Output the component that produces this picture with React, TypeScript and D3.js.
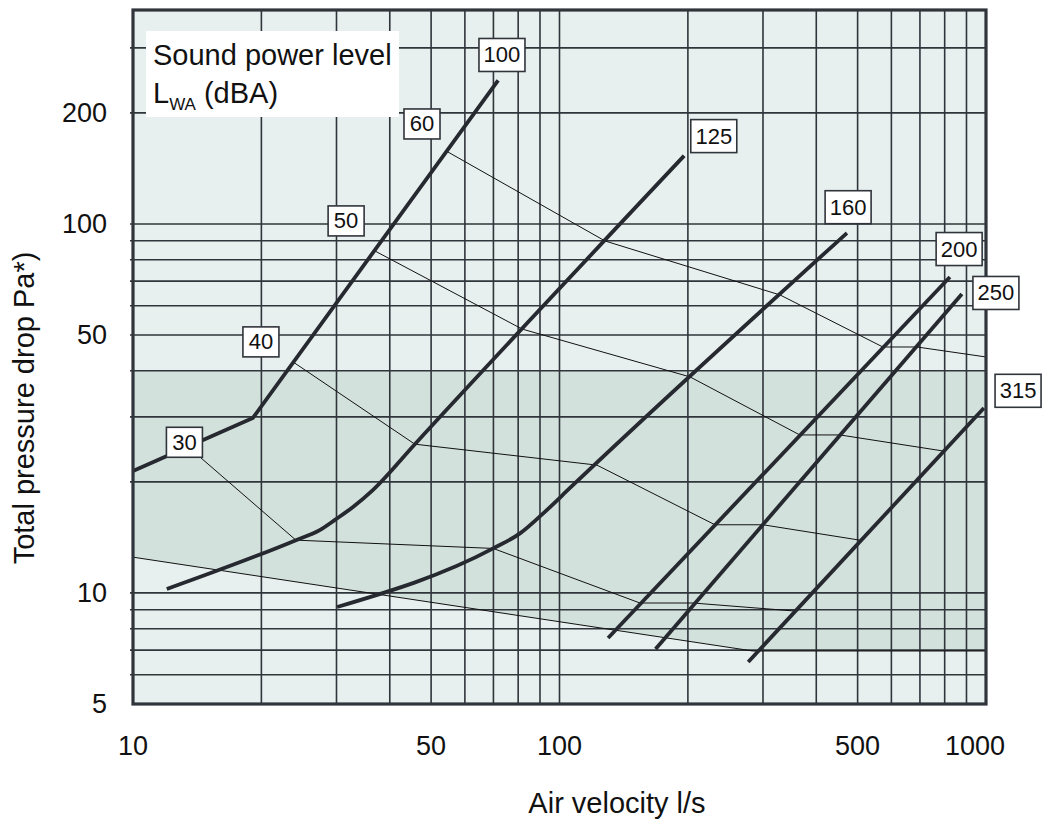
import React from 'react';
import * as d3 from 'd3';

// ---- data ----
const xGridValues = [20, 30, 40, 50, 60, 70, 80, 90, 100, 200, 300, 400, 500, 600, 700, 800, 900];
const yGridValues = [6, 7, 8, 9, 10, 20, 30, 40, 50, 60, 70, 80, 90, 100, 200, 300];
const xTickValues = [10, 50, 100, 500, 1000];
const yTickValues = [5, 10, 50, 100, 200];

// duct size curves [air flow l/s, pressure Pa]
const duct100 = [[10, 21.4], [19.1, 29.8], [71.8, 245]];
const duct125 = [[12, 10.25], [24.1, 13.9], [27.4, 14.8], [29.8, 15.8], [32.8, 17.1], [36.5, 19.0], [45.8, 25.3], [196, 153]];
const duct160 = [[30.1, 9.16], [69.9, 13.2], [80.8, 14.5], [93.5, 16.8], [105.8, 19.25], [472, 94.5]];
const duct200 = [[130, 7.55], [823, 71.8]];
const duct250 = [[168, 7.05], [878, 64.6]];
const duct315 = [[277, 6.5], [989, 31.7]];

// sound power level lines
const level30 = [[13.46, 24.9], [24.1, 13.9], [69.9, 13.2], [154.4, 9.39], [205.6, 9.39], [356.6, 8.93]];
const level40 = [[23.7, 42.3], [45.8, 25.3], [122.4, 22.2], [231.5, 15.3], [300, 15.3], [506, 13.9]];
const level50 = [[36.9, 84.5], [81.7, 51.9], [202.3, 38.5], [366, 26.8], [454.6, 26.8], [793, 24.25]];
const level60 = [[54.2, 157.7], [127.9, 89.9], [328.9, 64.2], [573, 46.4], [689, 46.4], [1000, 43.6]];
const lowerLimit = [[10, 12.5], [284, 6.96], [1000, 6.96]];
const bandTop = 40;

// labels
const ductLabels = ['100', '125', '160', '200', '250', '315'];
const ductLabelPos = [[73.3, 287], [230, 173], [475, 111], [865, 85.5], [1055, 65], [1189, 35.3]];
const levelLabels = ['30', '40', '50', '60'];
const levelLabelPos = [[13.2, 25.6], [19.95, 47.9], [31.6, 101.9], [47.6, 186.6]];

const FONT = '"Liberation Sans", Arial, Helvetica, sans-serif';

export default function App() {
  const W = 1042;
  const H = 822;
  const x = d3.scaleLog().domain([10, 1000]).range([133, 986]);
  const y = d3.scaleLog().domain([5, 380]).range([704, 10]);
  const [x0, x1] = x.range();
  const [yb, yt] = y.range();

  const lin = d3.line<number[]>().x(d => x(d[0])).y(d => y(d[1]));
  const smooth = d3.line<number[]>().x(d => x(d[0])).y(d => y(d[1])).curve(d3.curveMonotoneX);

  const bandPts: number[][] = [[10, bandTop], [1000, bandTop], ...lowerLimit.slice().reverse()];
  const bandPath = lin(bandPts) + 'Z';

  const grid = '#30343b';
  const thick = '#26292f';

  const ducts = [
    { d: duct100, s: lin },
    { d: duct125, s: smooth },
    { d: duct160, s: smooth },
    { d: duct200, s: lin },
    { d: duct250, s: lin },
    { d: duct315, s: lin },
  ];
  const levels = [level30, level40, level50, level60, lowerLimit];

  return (
    <svg width={W} height={H} style={{ display: 'block', position: 'absolute', left: 0, top: 0 }} fontFamily={FONT}>
      <rect x={0} y={0} width={W} height={H} fill="#ffffff" />
      <rect x={x0} y={yt} width={x1 - x0} height={yb - yt} fill="#e8f0ef" />
      <path d={bandPath} fill="#d3e1dc" />
      {/* grid */}
      {xGridValues.map(v => (
        <line key={'gx' + v} x1={x(v)} x2={x(v)} y1={yt} y2={yb} stroke={grid} strokeWidth={1.6} />
      ))}
      {yGridValues.map(v => (
        <line key={'gy' + v} x1={x0 - 3} x2={x1} y1={y(v)} y2={y(v)} stroke={grid} strokeWidth={1.6} />
      ))}
      {/* level lines */}
      {levels.map((l, i) => (
        <path key={'lv' + i} d={lin(l) || ''} fill="none" stroke="#111" strokeWidth={1} />
      ))}
      {/* duct lines */}
      {ducts.map((c, i) => (
        <path key={'dc' + i} d={c.s(c.d) || ''} fill="none" stroke={thick} strokeWidth={3.8} />
      ))}
      {/* border */}
      <rect x={x0} y={yt} width={x1 - x0} height={yb - yt} fill="none" stroke={grid} strokeWidth={3.2} />
      {/* level labels */}
      {levelLabels.map((t, i) => {
        const cx = x(levelLabelPos[i][0]);
        const cy = y(levelLabelPos[i][1]);
        return (
          <g key={'ll' + t}>
            <rect x={cx - 18} y={cy - 15} width={36} height={30} fill="#fff" stroke={grid} strokeWidth={1.6} />
            <text x={cx} y={cy} textAnchor="middle" dominantBaseline="central" fontSize={22} fill="#111">{t}</text>
          </g>
        );
      })}
      {/* duct labels */}
      {ductLabels.map((t, i) => {
        const cx = x(ductLabelPos[i][0]);
        const cy = y(ductLabelPos[i][1]);
        return (
          <g key={'dl' + t}>
            <rect x={cx - 23} y={cy - 16.5} width={46} height={33} fill="#fff" stroke={grid} strokeWidth={1.6} />
            <text x={cx} y={cy} textAnchor="middle" dominantBaseline="central" fontSize={22} fill="#111">{t}</text>
          </g>
        );
      })}
      {/* legend box */}
      <rect x={146} y={31} width={253} height={86} fill="#fff" />
      <text x={153} y={65} fontSize={29} fill="#111">Sound power level</text>
      <text x={153} y={103} fontSize={29} fill="#111">
        L<tspan fontSize={17} dy={7}>WA</tspan><tspan dy={-7}> (dBA)</tspan>
      </text>
      {/* y ticks */}
      {yTickValues.map(v => (
        <text key={'yt' + v} x={107} y={y(v)} textAnchor="end" dominantBaseline="central" fontSize={27} fill="#111">{v}</text>
      ))}
      {/* x ticks */}
      {xTickValues.map(v => (
        <text key={'xt' + v} x={x(v) + (v === 1000 ? -11 : 0)} y={755} textAnchor="middle" fontSize={27} fill="#111">{v}</text>
      ))}
      <text x={617} y={813} textAnchor="middle" fontSize={29} fill="#111">Air velocity l/s</text>
      <text transform="translate(34,408) rotate(-90)" textAnchor="middle" fontSize={29} fill="#111">Total pressure drop Pa*)</text>
    </svg>
  );
}
